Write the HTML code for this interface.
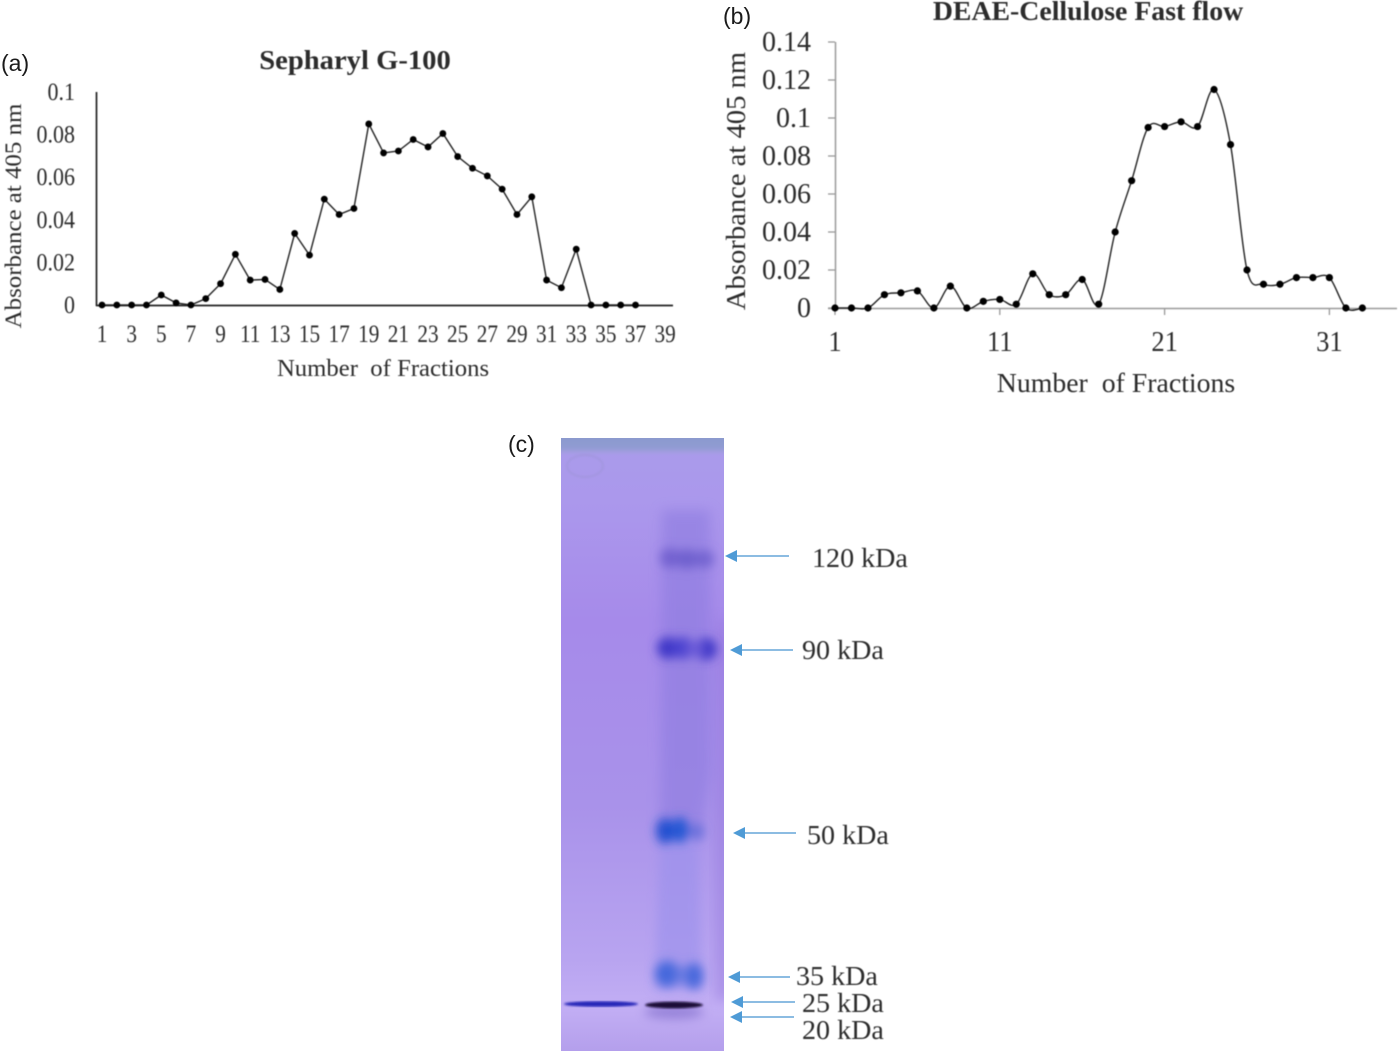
<!DOCTYPE html>
<html>
<head>
<meta charset="utf-8">
<title>Sepharyl G-100, DEAE-Cellulose and SDS-PAGE</title>
<style>
html,body{margin:0;padding:0;background:#fff;width:1400px;height:1053px;overflow:hidden}
svg{display:block}
text{font-family:"Liberation Serif",serif;fill:#2c2c2c}
.blur{filter:blur(.4px)}
.sans{font-family:"Liberation Sans",sans-serif;fill:#1a1a1a}
</style>
</head>
<body>
<svg id="fig" width="1400" height="1053" viewBox="0 0 1400 1053" xmlns="http://www.w3.org/2000/svg">
<defs>
<linearGradient id="gelBase" x1="0" y1="0" x2="0" y2="1">
<stop offset="0" stop-color="#a99bea"/><stop offset=".1" stop-color="#ab98ec"/><stop offset=".3" stop-color="#a68aea"/><stop offset=".6" stop-color="#a992ea"/><stop offset=".85" stop-color="#b8a4f0"/><stop offset=".93" stop-color="#c2aef4"/><stop offset="1" stop-color="#b49fec"/>
</linearGradient>
<linearGradient id="gelTop" x1="0" y1="0" x2="0" y2="1">
<stop offset="0" stop-color="#8a99cc"/><stop offset=".75" stop-color="#8f9bd2"/><stop offset="1" stop-color="#a79fe2"/>
</linearGradient>
<filter id="b1"><feGaussianBlur stdDeviation="1"/></filter>
<filter id="b2"><feGaussianBlur stdDeviation="2"/></filter>
<filter id="b5" x="-50%" y="-100%" width="200%" height="300%"><feGaussianBlur stdDeviation="5"/></filter>
<filter id="b7" x="-50%" y="-50%" width="200%" height="200%"><feGaussianBlur stdDeviation="6"/></filter>
<clipPath id="gelClip"><rect x="561" y="438" width="163" height="613"/></clipPath>
</defs>

<g id="gel" clip-path="url(#gelClip)">
<rect x="561" y="438" width="163" height="613" fill="url(#gelBase)"/>
<rect x="555" y="432" width="175" height="21" fill="url(#gelTop)" filter="url(#b2)"/>
<rect x="716" y="620" width="14" height="380" fill="#9478dc" opacity=".5" filter="url(#b7)"/>
<ellipse cx="585" cy="466" rx="18" ry="11" fill="none" stroke="#9a92d0" stroke-width="1.2" opacity=".7" filter="url(#b1)"/>
<path d="M662 510 L710 510 L712 770 L702 830 L660 830 Z" fill="#8d7be0" opacity=".6" filter="url(#b7)"/>
<path d="M660 840 L698 840 L702 990 L654 990 Z" fill="#9a90ec" opacity=".6" filter="url(#b5)"/>
<g filter="url(#b5)">
<ellipse cx="670" cy="558" rx="10" ry="10" fill="#6c5ccc" opacity=".85"/><ellipse cx="687" cy="559" rx="10" ry="10" fill="#6c5ccc" opacity=".9"/><ellipse cx="704" cy="559" rx="10" ry="9" fill="#6c5ccc" opacity=".8"/>
</g>
<g filter="url(#b5)">
<ellipse cx="668" cy="648" rx="11" ry="11" fill="#4038c8"/><ellipse cx="683" cy="648" rx="10" ry="11" fill="#4c42d0"/><ellipse cx="706" cy="649" rx="11" ry="11" fill="#4038c8"/><ellipse cx="695" cy="649" rx="9" ry="8" fill="#6a5ad8"/>
</g>
<g filter="url(#b5)">
<ellipse cx="665" cy="831" rx="9" ry="13" fill="#2450d0"/><ellipse cx="680" cy="830" rx="9" ry="13" fill="#2858d4"/><ellipse cx="697" cy="832" rx="7" ry="9" fill="#5a68d8" opacity=".8"/>
</g>
<g filter="url(#b5)">
<ellipse cx="667" cy="974" rx="12" ry="13" fill="#4468dc"/><ellipse cx="694" cy="976" rx="9" ry="13" fill="#4668dc"/><ellipse cx="681" cy="975" rx="7" ry="10" fill="#6478e0" opacity=".8"/>
</g>
<ellipse cx="674" cy="1012" rx="30" ry="7" fill="#7a68c8" opacity=".6" filter="url(#b5)"/>
<ellipse cx="674" cy="1005" rx="29" ry="3.4" fill="#1c1038" filter="url(#b1)"/>
<ellipse cx="601" cy="1004" rx="37" ry="2.8" fill="#2626b8" filter="url(#b1)"/>
</g>

<g id="arrows"></g>
<g id="chartA" class="blur"></g>
<g id="chartB" class="blur"></g>
<g id="labels"></g>
</svg>

<script>
// Panel (a) data
var fractionsA = [1,2,3,4,5,6,7,8,9,10,11,12,13,14,15,16,17,18,19,20,21,22,23,24,25,26,27,28,29,30,31,32,33,34,35,36,37];
var absorbanceA = [0,0,0,0,.0047,.001,0,.003,.01,.0238,.0117,.012,.0073,.0336,.0234,.0497,.0425,.0453,.085,.0714,.0723,.0777,.0742,.0805,.0697,.0642,.0606,.0544,.0425,.0508,.0117,.0081,.0262,0,0,0,0];
var xTicksA = [1,3,5,7,9,11,13,15,17,19,21,23,25,27,29,31,33,35,37,39];
var yTicksA = [0,0.02,0.04,0.06,0.08,0.1];

// Panel (b) data
var fractionsB = [1,2,3,4,5,6,7,8,9,10,11,12,13,14,15,16,17,18,19,20,21,22,23,24,25,26,27,28,29,30,31,32,33];
var absorbanceB = [0,0,0,.007,.008,.009,0,.0115,0,.0035,.0045,.002,.018,.007,.007,.015,.002,.04,.067,.095,.0955,.098,.0955,.115,.086,.02,.0125,.0125,.016,.016,.016,0,0];
var xTicksB = [1,11,21,31];
var yTicksB = [0,0.02,0.04,0.06,0.08,0.1,0.12,0.14];

// Panel (c) labels
var bandLabels = ['120 kDa','90 kDa','50 kDa','35 kDa','25 kDa','20 kDa'];

var NS = 'http://www.w3.org/2000/svg';
function xA(f){return 102 + (f-1)*14.82;}
function yA(v){return 305 - v*2130;}
function xB(f){return 835 + (f-1)*16.48;}
function yB(v){return 308 - v*1900;}

function mk(tag, parent, name){
  var el = document.createElementNS(NS, tag);
  
  
  parent.appendChild(el);
  return el;
}
function line(parent, name, x1, y1, x2, y2, color, w){
  var l = mk('line', parent, name);
  l.setAttribute('x1', x1); l.setAttribute('y1', y1);
  l.setAttribute('x2', x2); l.setAttribute('y2', y2);
  l.setAttribute('stroke', color); l.setAttribute('stroke-width', w);
  return l;
}
function text(parent, name, str, x, y, size, sx, anchor, weight, rot){
  var t = mk('text', parent, name);
  t.textContent = str;
  t.setAttribute('font-size', size);
  t.setAttribute('text-anchor', anchor || 'middle');
  if (weight) t.setAttribute('font-weight', weight);
  t.setAttribute('transform', 'translate(' + x + ',' + y + ')' + (rot ? ' rotate(' + rot + ')' : '') + ' scale(' + sx + ',1)');
  return t;
}
function dots(parent, name, xs, ys, fx, fy, r){
  xs.forEach(function(f, i){
    var c = mk('circle', parent, name + '-' + f);
    c.setAttribute('cx', fx(f)); c.setAttribute('cy', fy(ys[i])); c.setAttribute('r', r);
    c.setAttribute('fill', '#000');
  });
}

// Chart A
(function(){
  var g = document.getElementById('chartA');
  line(g, 'y-axis', 96.5, 92, 96.5, 306, '#222', 1.7);
  line(g, 'x-axis', 96, 305.5, 673, 305.5, '#222', 1.7);
  yTicksA.forEach(function(v){
    text(g, 'y-tick-label', String(v), 75, yA(v) + 8, 25, .88, 'end');
  });
  xTicksA.forEach(function(v){
    text(g, 'x-tick-label', String(v), xA(v), 342, 25, .85);
  });
  var d = absorbanceA.map(function(v, i){ return (i ? 'L' : 'M') + xA(fractionsA[i]).toFixed(1) + ' ' + yA(v).toFixed(1); }).join(' ');
  var p = mk('path', g, 'absorbance-line');
  p.setAttribute('d', d); p.setAttribute('fill', 'none'); p.setAttribute('stroke', '#222'); p.setAttribute('stroke-width', 1.4);
  dots(g, 'point', fractionsA, absorbanceA, xA, yA, 3.4);
  text(g, 'chart-title', 'Sepharyl G-100', 355, 69, 27, 1.06, 'middle', 'bold');
  text(g, 'x-axis-title', 'Number\u00A0\u00A0of Fractions', 383, 376, 24, 1.03);
  text(g, 'y-axis-title', 'Absorbance at 405 nm', 21, 216, 23.5, 1.06, 'middle', null, -90);
})();

// Chart B
(function(){
  var g = document.getElementById('chartB');
  line(g, 'y-axis', 835.5, 42, 835.5, 309, '#999', 1.5);
  line(g, 'x-axis', 828, 308.5, 1397, 308.5, '#999', 1.5);
  yTicksB.forEach(function(v){
    line(g, 'y-tick', 828, yB(v), 835, yB(v), '#999', 1.3);
    text(g, 'y-tick-label', String(v), 811, yB(v) + 9, 28, 1, 'end');
  });
  xTicksB.forEach(function(v){
    line(g, 'x-tick', xB(v), 308, xB(v), 315, '#999', 1.3);
    text(g, 'x-tick-label', String(v), xB(v), 351, 28, .95);
  });
  var pts = absorbanceB.map(function(v, i){ return [xB(fractionsB[i]), yB(v)]; });
  var d = 'M' + pts[0][0].toFixed(1) + ' ' + pts[0][1].toFixed(1);
  for (var i = 0; i < pts.length - 1; i++){
    var p0 = pts[Math.max(i-1, 0)], p1 = pts[i], p2 = pts[i+1], p3 = pts[Math.min(i+2, pts.length-1)];
    d += ' C' + (p1[0] + (p2[0]-p0[0])/6).toFixed(1) + ' ' + (p1[1] + (p2[1]-p0[1])/6).toFixed(1) +
         ' ' + (p2[0] - (p3[0]-p1[0])/6).toFixed(1) + ' ' + (p2[1] - (p3[1]-p1[1])/6).toFixed(1) +
         ' ' + p2[0].toFixed(1) + ' ' + p2[1].toFixed(1);
  }
  var p = mk('path', g, 'absorbance-line');
  p.setAttribute('d', d); p.setAttribute('fill', 'none'); p.setAttribute('stroke', '#222'); p.setAttribute('stroke-width', 1.4);
  dots(g, 'point', fractionsB, absorbanceB, xB, yB, 3.6);
  text(g, 'chart-title', 'DEAE-Cellulose Fast flow', 1088, 20, 27, 1.03, 'middle', 'bold');
  text(g, 'x-axis-title', 'Number\u00A0\u00A0of Fractions', 1116, 392, 27, 1.03);
  text(g, 'y-axis-title', 'Absorbance at 405 nm', 745, 181, 27, 1.06, 'middle', null, -90);
})();

// Arrows and kDa labels
(function(){
  var g = document.getElementById('arrows');
  var heads = [725,730,733,728,731,730];
  var tails = [789,793,796,790,795,794];
  var ys = [556,650,833,977,1002,1017];
  var lx = [812,802,807,796,802,802];
  var ly = [567,659,844,985,1012,1039];
  bandLabels.forEach(function(lab, i){
    line(g, 'band-arrow-shaft', heads[i] + 8, ys[i], tails[i], ys[i], '#7cb2de', 1.8);
    var h = mk('polygon', g, 'band-arrow-head');
    h.setAttribute('points', heads[i] + ',' + ys[i] + ' ' + (heads[i]+12) + ',' + (ys[i]-6) + ' ' + (heads[i]+12) + ',' + (ys[i]+6));
    h.setAttribute('fill', '#4f9bd6');
    var t = text(g, 'band-label', lab, lx[i], ly[i], 27, 1.04, 'start');
    t.setAttribute('class', 'blur');
  });
})();

// Panel letters
(function(){
  var g = document.getElementById('labels');
  var a = text(g, 'panel-label-a', '(a)', 1, 71, 23, 1, 'start');
  a.setAttribute('class', 'sans');
  var b = text(g, 'panel-label-b', '(b)', 723, 24, 23, 1, 'start');
  b.setAttribute('class', 'sans');
  var c = text(g, 'panel-label-c', '(c)', 508, 452, 23, 1, 'start');
  c.setAttribute('class', 'sans');
})();
</script>
</body>
</html>
